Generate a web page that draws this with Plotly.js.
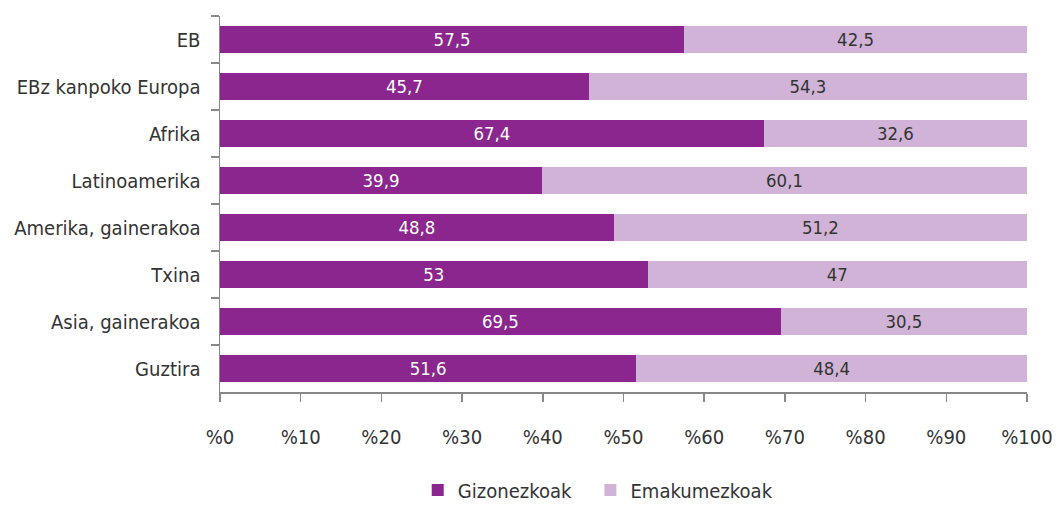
<!DOCTYPE html>
<html><head><meta charset="utf-8">
<script src="https://cdn.plot.ly/plotly-3.0.1.min.js"></script>
<style>body{margin:0;background:#fff}#c{width:1056px;height:505px}</style>
</head><body><div id="c"></div>
<script>
const categories = ["EB","EBz kanpoko Europa","Afrika","Latinoamerika","Amerika, gainerakoa","Txina","Asia, gainerakoa","Guztira"];
const gizonezkoak = [57.5,45.7,67.4,39.9,48.8,53,69.5,51.6];
const emakumezkoak = [42.5,54.3,32.6,60.1,51.2,47,30.5,48.4];
const tickVals = [0,10,20,30,40,50,60,70,80,90,100];
const tickText = ["%0","%10","%20","%30","%40","%50","%60","%70","%80","%90","%100"];
const seriesNames = ["Gizonezkoak","Emakumezkoak"];

// pick the narrowest available condensed font
const ctx = document.createElement('canvas').getContext('2d');
const sample = 'EBz kanpoko Europa';
function width(f){ ctx.font = '100px ' + f; return ctx.measureText(sample).width; }
function avail(name){
  return width("'" + name + "', monospace") !== width('monospace') ||
         width("'" + name + "', serif") !== width('serif');
}
const candidates = ['Liberation Sans Narrow','DejaVu Sans Condensed','Roboto Condensed','Open Sans Condensed','Roboto','Liberation Sans','DejaVu Sans'];
let fam = 'sans-serif';
for (const c of candidates) { if (avail(c)) { fam = c; break; } }
const FONT = "'" + fam + "', sans-serif";
let S = 184 * 100 / width("'" + fam + "', sans-serif");
S = Math.max(16, Math.min(23.5, S));

const fmt = v => String(v).replace('.', ',');
const traces = [
  {type:'bar', orientation:'h', y:categories, x:gizonezkoak, name:seriesNames[0], legend:'legend',
   marker:{color:'#8B268F'}, text:gizonezkoak.map(fmt), textposition:'inside', insidetextanchor:'middle', textangle:0,
   textfont:{color:'#ffffff', size:S*0.95, family:FONT}, hoverinfo:'none'},
  {type:'bar', orientation:'h', y:categories, x:emakumezkoak, name:seriesNames[1], legend:'legend2',
   marker:{color:'#D0B3D6'}, text:emakumezkoak.map(fmt), textposition:'inside', insidetextanchor:'middle', textangle:0,
   textfont:{color:'#333333', size:S*0.95, family:FONT}, hoverinfo:'none'}
];
const legendBase = {orientation:'h', xanchor:'left', xref:'paper', yref:'paper', y:-0.262, yanchor:'middle',
    font:{size:S, family:FONT, color:'#333'}, itemwidth:30, borderwidth:0, bgcolor:'rgba(0,0,0,0)'};
const layout = {
  width:1056, height:505, barmode:'stack', bargap:0.42,
  paper_bgcolor:'#fff', plot_bgcolor:'#fff',
  font:{family:FONT, color:'#333', size:S},
  margin:{l:220, r:29, t:16, b:113, autoexpand:false},
  showlegend:true,
  legend:Object.assign({}, legendBase, {x:0.245}),
  legend2:Object.assign({}, legendBase, {x:0.459}),
  xaxis:{range:[0,100], tickvals:tickVals, ticktext:tickText, showgrid:false, zeroline:false, automargin:false,
    showline:true, linecolor:'#888', linewidth:1.5, ticks:'outside', ticklen:8, tickcolor:'#888', tickwidth:1.5,
    tickfont:{size:S, family:FONT, color:'#333'}, ticklabelstandoff:18, fixedrange:true},
  yaxis:{autorange:'reversed', type:'category', showgrid:false, zeroline:false, automargin:false, showline:true, linecolor:'#888', linewidth:1.5,
    ticks:'outside', tickson:'boundaries', ticklen:8, tickcolor:'#888', tickwidth:1.5,
    tickfont:{size:S, family:FONT, color:'#333'}, ticklabelstandoff:14, fixedrange:true}
};
Plotly.newPlot('c', traces, layout, {displayModeBar:false, staticPlot:true});
</script></body></html>
